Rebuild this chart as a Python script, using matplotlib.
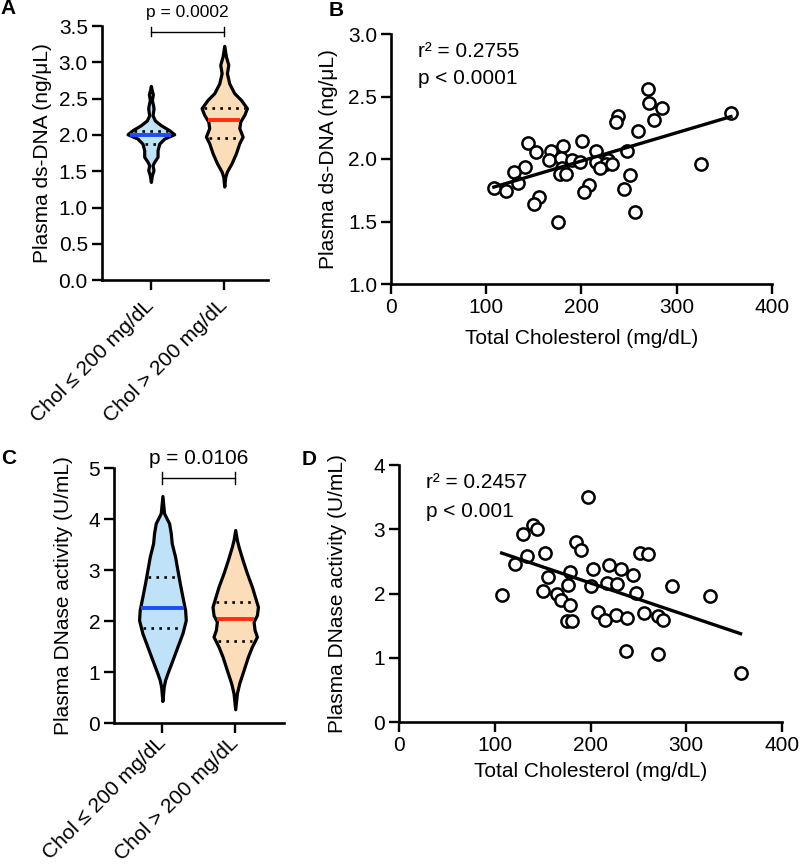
import numpy as np
import matplotlib
matplotlib.use("Agg")
import matplotlib.pyplot as plt

plt.rcParams['font.family'] = ['Liberation Sans', 'DejaVu Sans']
plt.rcParams['axes.linewidth'] = 1.9
FS = 15

# ---------------- data ----------------
groups = ["Chol \u2264 200 mg/dL", "Chol > 200 mg/dL"]

# Panel A violins: (y, half-width) profiles
A_low_y = [2.676, 2.63, 2.56, 2.48, 2.40, 2.36, 2.27, 2.20, 2.135, 2.066, 2.01, 1.95, 1.88, 1.79, 1.70, 1.63, 1.584, 1.515, 1.446, 1.354]
A_low_w = [0.0, 0.009, 0.027, 0.014, 0.032, 0.036, 0.023, 0.055, 0.136, 0.25, 0.318, 0.182, 0.114, 0.091, 0.091, 0.045, 0.023, 0.036, 0.014, 0.0]
A_high_y = [3.227, 3.08, 2.966, 2.85, 2.71, 2.576, 2.483, 2.369, 2.277, 2.185, 2.094, 1.978, 1.887, 1.749, 1.612, 1.496, 1.427, 1.29]
A_high_w = [0.0, 0.023, 0.055, 0.036, 0.068, 0.136, 0.227, 0.309, 0.273, 0.218, 0.205, 0.25, 0.205, 0.159, 0.1, 0.036, 0.014, 0.0]
A_median = [2.00, 2.21]
A_q1 = [1.873, 1.96]
A_q3 = [2.056, 2.369]

# Panel C violins
C_low_y = [4.457, 4.118, 3.92, 3.725, 3.53, 3.266, 3.006, 2.745, 2.482, 2.22, 2.025, 1.765, 1.502, 1.241, 0.98, 0.849, 0.717, 0.437]
C_low_w = [0.0, 0.023, 0.092, 0.115, 0.128, 0.174, 0.206, 0.239, 0.275, 0.312, 0.321, 0.275, 0.206, 0.138, 0.069, 0.037, 0.018, 0.0]
C_high_y = [3.79, 3.594, 3.463, 3.202, 2.941, 2.678, 2.418, 2.286, 2.12, 1.992, 1.83, 1.698, 1.502, 1.306, 1.045, 0.784, 0.588, 0.275]
C_high_w = [0.0, 0.023, 0.046, 0.101, 0.161, 0.229, 0.284, 0.312, 0.298, 0.252, 0.266, 0.298, 0.229, 0.174, 0.115, 0.055, 0.023, 0.0]
C_median = [2.255, 2.039]
C_q1 = [1.863, 1.608]
C_q3 = [2.868, 2.378]

# Panel B scatter: total cholesterol vs plasma ds-DNA
B_chol = [270.1, 271.2, 284.8, 357.2, 238.5, 236.1, 276.1, 259.6, 143.8, 201.1, 180.6, 152.6, 168.4, 215.1,
          248.0, 165.6, 178.9, 190.1, 198.2, 215.8, 228.0, 226.3, 232.6, 325.6, 141.1, 129.1, 180.0, 219.3,
          177.2, 184.2, 251.6, 133.3, 108.0, 121.1, 207.7, 202.7, 244.8, 155.4, 150.1, 256.1, 175.8]
B_dna = [2.56, 2.448, 2.408, 2.368, 2.346, 2.296, 2.314, 2.228, 2.127, 2.148, 2.106, 2.060, 2.066, 2.066,
         2.066, 1.994, 2.007, 1.994, 1.980, 1.980, 1.994, 1.962, 1.962, 1.962, 1.940, 1.900, 1.927, 1.927,
         1.881, 1.881, 1.873, 1.807, 1.767, 1.748, 1.793, 1.735, 1.759, 1.700, 1.639, 1.579, 1.497]
B_fit = (0.002263, 1.531)   # slope, intercept
B_fit_range = (108.0, 357.2)

# Panel D scatter: total cholesterol vs DNase activity
D_chol = [197.0, 140.2, 143.7, 129.1, 184.8, 189.7, 152.4, 251.6, 260.2, 133.3, 121.1, 219.5, 202.8, 231.4,
          178.5, 244.6, 155.2, 216.8, 227.2, 176.7, 200.4, 284.7, 150.0, 247.4, 165.2, 107.2, 324.6, 168.8,
          178.5, 208.0, 226.5, 256.1, 237.7, 215.0, 270.7, 275.9, 175.1, 180.3, 236.6, 270.0, 356.7]
D_act = [3.495, 3.073, 3.0, 2.922, 2.802, 2.672, 2.630, 2.630, 2.609, 2.578, 2.453, 2.438, 2.386, 2.386,
         2.333, 2.281, 2.255, 2.161, 2.141, 2.136, 2.114, 2.114, 2.036, 2.005, 1.995, 1.969, 1.958, 1.902,
         1.828, 1.708, 1.672, 1.692, 1.614, 1.594, 1.656, 1.594, 1.578, 1.578, 1.109, 1.058, 0.770]
D_fit = (-0.00503, 3.169)
D_fit_range = (107.2, 356.7)

fills = ["#BFE2F8", "#FCDDBA"]
medcols = ["#1A4DFF", "#FF2D0A"]

W, H = 800, 866
fig = plt.figure(figsize=(W / 100, H / 100), dpi=100)


def add_axes_px(left, top, right, bottom):
    return fig.add_axes([left / W, 1 - bottom / H, (right - left) / W, (bottom - top) / H])


def style(ax):
    for s in ["top", "right"]:
        ax.spines[s].set_visible(False)
    ax.tick_params(labelsize=FS, length=7, width=1.7, pad=3)


def violin_panel(ax, profiles, med, q1, q3, ylim, yticks, yfmt, ylabel, labx, xpad):
    for i, (yy, ww) in enumerate(profiles):
        yy = np.array(yy)
        ww = np.array(ww)
        order = np.argsort(yy)
        yy, ww = yy[order], ww[order]
        ax.fill_betweenx(yy, i - ww, i + ww, facecolor=fills[i], edgecolor="black", linewidth=2.3, zorder=2)
        for q in (q1[i], q3[i]):
            hw = np.interp(q, yy, ww)
            ax.plot([i - hw + 0.03, i + hw - 0.03], [q, q], color="black", lw=1.9,
                    linestyle=(0, (1, 2.0)), zorder=3)
        hw = np.interp(med[i], yy, ww)
        ax.plot([i - hw + 0.015, i + hw - 0.015], [med[i], med[i]], color=medcols[i], lw=2.8, zorder=3,
                solid_capstyle="butt")
    ax.set_ylim(*ylim)
    ax.set_yticks(yticks)
    ax.set_yticklabels([yfmt.format(t) for t in yticks])
    ax.set_xticks([0, 1])
    ax.set_xticklabels(groups, rotation=45, ha="right", va="center", rotation_mode="anchor", fontsize=FS)
    ax.tick_params(axis="x", pad=xpad)
    ax.set_ylabel(ylabel, fontsize=FS)
    ax.yaxis.set_label_coords(labx, 0.5)


# ---- Panel A ----
axA = add_axes_px(101.7, 26, 268.3, 280.3)
style(axA)
axA.set_xlim(-0.67, 1.6)
violin_panel(axA, [(A_low_y, A_low_w), (A_high_y, A_high_w)], A_median, A_q1, A_q3,
             (0, 3.5), np.arange(0, 3.51, 0.5), "{:.1f}", "Plasma ds-DNA (ng/\u03bcL)", -0.30, 9)
axA.plot([0, 1], [3.424, 3.424], color="black", lw=1.0, clip_on=False)
axA.plot([0, 0], [3.36, 3.49], color="black", lw=1.0, clip_on=False)
axA.plot([1, 1], [3.36, 3.49], color="black", lw=1.0, clip_on=False)
axA.text(0.5, 3.68, "p = 0.0002", ha="center", va="center", fontsize=12.5, clip_on=False)

# ---- Panel C ----
axC = add_axes_px(114, 468.3, 284, 723.3)
style(axC)
axC.set_xlim(-0.665, 1.67)
violin_panel(axC, [(C_low_y, C_low_w), (C_high_y, C_high_w)], C_median, C_q1, C_q3,
             (0, 5), np.arange(0, 6, 1), "{:.0f}", "Plasma DNase activity (U/mL)", -0.24, 5)
axC.plot([0, 1], [4.804, 4.804], color="black", lw=1.0, clip_on=False)
axC.plot([0, 0], [4.69, 4.93], color="black", lw=1.0, clip_on=False)
axC.plot([1, 1], [4.69, 4.93], color="black", lw=1.0, clip_on=False)
axC.text(0.5, 5.2, "p = 0.0106", ha="center", va="center", fontsize=15, clip_on=False)


def scatter_panel(ax, x, y, fit, rng, ylim, yticks, yfmt, ylabel, labx, xlaby, txt):
    ax.plot(x, y, linestyle="none", marker="o", markersize=8.8, markerfacecolor="white",
            markeredgecolor="black", markeredgewidth=1.8, zorder=3, clip_on=False)
    xs = np.array(rng)
    ax.plot(xs, fit[0] * xs + fit[1], color="black", lw=2.4, zorder=4)
    ax.set_xlim(0, 400)
    ax.set_xticks([0, 100, 200, 300, 400])
    ax.set_ylim(*ylim)
    ax.set_yticks(yticks)
    ax.set_yticklabels([yfmt.format(t) for t in yticks])
    ax.set_ylabel(ylabel, fontsize=FS)
    ax.yaxis.set_label_coords(labx, 0.5)
    ax.set_xlabel("Total Cholesterol (mg/dL)", fontsize=FS)
    ax.xaxis.set_label_coords(0.5, xlaby)
    ax.text(0.07, 0.93, txt[0], transform=ax.transAxes, fontsize=FS, va="center", ha="left")
    ax.text(0.07, 0.82, txt[1], transform=ax.transAxes, fontsize=FS, va="center", ha="left")


# ---- Panel B ----
axB = add_axes_px(391, 34, 771.7, 284)
style(axB)
scatter_panel(axB, B_chol, B_dna, B_fit, B_fit_range, (1.0, 3.0), np.arange(1.0, 3.01, 0.5), "{:.1f}",
              "Plasma ds-DNA (ng/\u03bcL)", -0.14, -0.18, ("r\u00b2 = 0.2755", "p < 0.0001"))

# ---- Panel D ----
axD = add_axes_px(399, 465, 782, 722)
style(axD)
scatter_panel(axD, D_chol, D_act, D_fit, D_fit_range, (0, 4), np.arange(0, 5, 1), "{:.0f}",
              "Plasma DNase activity (U/mL)", -0.135, -0.155, ("r\u00b2 = 0.2457", "p < 0.001"))

# panel letters
for lab, (px, py) in {"A": (0, 9), "B": (329, 11), "C": (1, 459), "D": (302, 460)}.items():
    fig.text(px / W, 1 - py / H, lab, fontsize=15, fontweight="bold", ha="left", va="center")

fig.savefig("out.png", dpi=100)
